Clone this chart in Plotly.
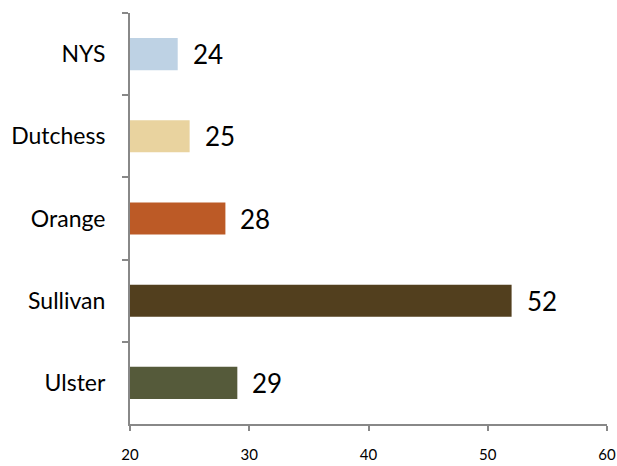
import plotly.graph_objects as go

# data
counties = ["NYS", "Dutchess", "Orange", "Sullivan", "Ulster"]
values = [24, 25, 28, 52, 29]
colors = ["#BED2E4", "#E9D39F", "#BC5A26", "#523F1E", "#555A3A"]
x_ticks = [20, 30, 40, 50, 60]

font_family = "Lato, 'Noto Sans', sans-serif"
axis_color = "#888888"

fig = go.Figure(
    go.Bar(
        x=values,
        y=counties,
        orientation="h",
        base=0,
        marker=dict(color=colors, line=dict(width=0)),
        width=0.39,
        hoverinfo="x+y",
    )
)

# value labels to the right of each bar
for c, v in zip(counties, values):
    fig.add_annotation(
        x=v, y=c, text=str(v), showarrow=False,
        xanchor="left", xshift=13,
        font=dict(family=font_family, size=26, color="black"),
    )

fig.update_xaxes(
    range=[20, 60],
    tickvals=x_ticks,
    automargin=False,
    showgrid=False,
    zeroline=False,
    showline=True,
    linecolor=axis_color,
    linewidth=2,
    ticks="outside",
    ticklen=5,
    tickwidth=2,
    tickcolor=axis_color,
    ticklabelstandoff=11,
    tickfont=dict(family=font_family, size=15, color="black"),
)

fig.update_yaxes(
    categoryorder="array",
    categoryarray=counties,
    autorange="reversed",
    automargin=False,
    tickson="boundaries",
    showgrid=False,
    showline=True,
    linecolor=axis_color,
    linewidth=2,
    ticks="outside",
    ticklen=6,
    tickwidth=2,
    tickcolor=axis_color,
    ticklabelstandoff=18,
    tickfont=dict(family=font_family, size=23, color="black"),
)

fig.update_layout(
    width=617,
    height=466,
    margin=dict(l=130, r=10, t=13, b=42),
    plot_bgcolor="white",
    paper_bgcolor="white",
    showlegend=False,
    bargap=0.6,
)

# drop the browser's default page margin so the figure sits at the window corner
fig.write_html(
    "out.html",
    config={"displayModeBar": False},
    post_script="document.body.style.margin='0';document.body.style.overflow='hidden';",
)
